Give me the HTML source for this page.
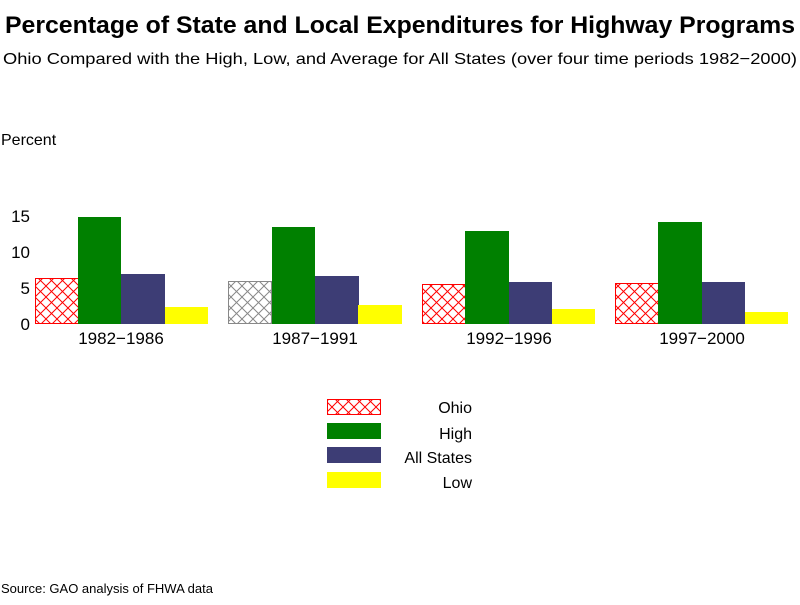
<!DOCTYPE html>
<html><head><style>
body{margin:0;background:#fff;width:800px;height:600px;overflow:hidden}
svg text{font-family:"Liberation Sans",sans-serif}
</style></head><body>
<svg width="800" height="600" viewBox="0 0 800 600">
<defs>
<pattern id="hr" width="11" height="11" patternUnits="userSpaceOnUse" x="35" y="0">
<path d="M0 0L11 11M11 0L0 11" stroke="#f00" stroke-width="1" fill="none"/></pattern>
<pattern id="hg" width="11" height="11" patternUnits="userSpaceOnUse">
<path d="M0 0L11 11M11 0L0 11" stroke="#888" stroke-width="1" fill="none"/></pattern>
</defs>
<text x="400" y="33" text-anchor="middle" font-size="24" font-weight="bold" textLength="790" lengthAdjust="spacingAndGlyphs">Percentage of State and Local Expenditures for Highway Programs</text>
<text x="400" y="64" text-anchor="middle" font-size="16" textLength="794" lengthAdjust="spacingAndGlyphs">Ohio Compared with the High, Low, and Average for All States (over four time periods 1982−2000)</text>
<text x="1" y="145" font-size="16">Percent</text>
<g font-size="17" text-anchor="end">
<text x="30" y="222">15</text><text x="30" y="258">10</text><text x="30" y="294">5</text><text x="30" y="330">0</text>
</g>
<g>
<rect x="35.5" y="278.5" width="43" height="45" fill="url(#hr)" stroke="#f00"/>
<rect x="78" y="217" width="43" height="107" fill="#008000"/>
<rect x="121" y="274" width="44" height="50" fill="#3d3d75"/>
<rect x="165" y="307" width="43" height="17" fill="#ff0"/>

<rect x="228.5" y="281.5" width="43" height="42" fill="url(#hg)" stroke="#888"/>
<rect x="272" y="227" width="43" height="97" fill="#008000"/>
<rect x="315" y="276" width="44" height="48" fill="#3d3d75"/>
<rect x="358" y="305" width="44" height="19" fill="#ff0"/>

<rect x="422.5" y="284.5" width="43" height="39" fill="url(#hr)" stroke="#f00"/>
<rect x="465" y="231" width="44" height="93" fill="#008000"/>
<rect x="509" y="282" width="43" height="42" fill="#3d3d75"/>
<rect x="552" y="309" width="43" height="15" fill="#ff0"/>

<rect x="615.5" y="283.5" width="43" height="40" fill="url(#hr)" stroke="#f00"/>
<rect x="658" y="222" width="44" height="102" fill="#008000"/>
<rect x="702" y="282" width="43" height="42" fill="#3d3d75"/>
<rect x="745" y="312" width="43" height="12" fill="#ff0"/>
</g>
<g font-size="17" text-anchor="middle">
<text x="121" y="344">1982−1986</text>
<text x="315" y="344">1987−1991</text>
<text x="509" y="344">1992−1996</text>
<text x="702" y="344">1997−2000</text>
</g>
<rect x="327.5" y="399.5" width="53" height="15" fill="url(#hr)" stroke="#f00"/>
<rect x="327" y="423" width="54" height="16" fill="#008000"/>
<rect x="327" y="447" width="54" height="16" fill="#3d3d75"/>
<rect x="327" y="472" width="54" height="16" fill="#ff0"/>
<g font-size="16" text-anchor="end">
<text x="472" y="413">Ohio</text>
<text x="472" y="439">High</text>
<text x="472" y="463">All States</text>
<text x="472" y="488">Low</text>
</g>
<text x="1" y="593" font-size="13">Source: GAO analysis of FHWA data</text>
</svg>
</body></html>
